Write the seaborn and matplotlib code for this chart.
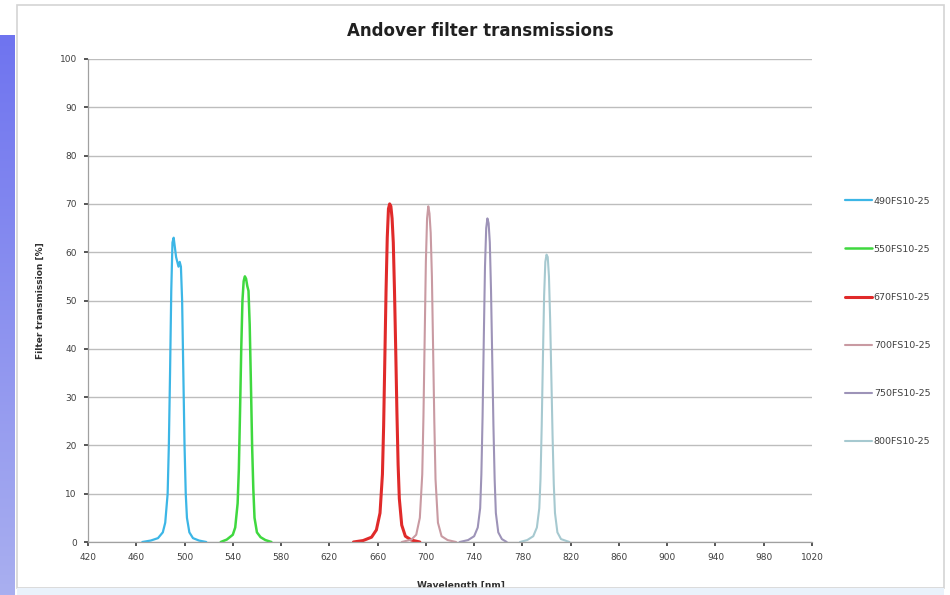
import numpy as np
import pandas as pd
import matplotlib
matplotlib.use("Agg")
import matplotlib.pyplot as plt
from matplotlib.patches import Rectangle
from matplotlib.colors import LinearSegmentedColormap
import seaborn as sns

# ---- data ----
filters = ["490FS10-25", "550FS10-25", "670FS10-25", "700FS10-25", "750FS10-25", "800FS10-25"]

wl_490 = [465, 472, 478, 482, 484, 486, 487, 488, 489, 490, 491, 492, 493, 494, 495, 496, 497, 498, 499, 500, 501, 502, 504, 507, 512, 518]
tr_490 = [0, 0.3, 0.8, 2, 4, 10, 20, 35, 52, 62, 63, 61, 59, 58, 57, 58, 57, 50, 35, 20, 10, 5, 2, 0.8, 0.3, 0]

wl_550 = [530, 535, 540, 542, 544, 545, 546, 547, 548, 549, 550, 551, 552, 553, 554, 555, 556, 557, 558, 560, 563, 567, 572]
tr_550 = [0, 0.5, 1.5, 3, 8, 15, 27, 40, 50, 54, 55, 54.5, 53, 52, 45, 33, 20, 11, 5, 2, 1, 0.4, 0]

wl_670 = [640, 648, 655, 659, 662, 664, 665, 666, 667, 668, 669, 670, 671, 672, 673, 674, 675, 676, 677, 678, 680, 683, 688, 695]
tr_670 = [0, 0.3, 1, 2.5, 6, 14, 24, 38, 52, 63, 69, 70, 69.5, 67, 62, 52, 40, 27, 16, 9, 3.5, 1.2, 0.4, 0]

wl_700 = [680, 688, 692, 695, 697, 698, 699, 700, 701, 702, 703, 704, 705, 706, 707, 708, 710, 713, 718, 725]
tr_700 = [0, 0.5, 1.5, 5, 14, 26, 42, 58, 67, 69.5, 68, 64, 55, 40, 25, 13, 4, 1.2, 0.4, 0]

wl_750 = [728, 735, 740, 743, 745, 746, 747, 748, 749, 750, 751, 752, 753, 754, 755, 756, 757, 758, 760, 763, 767]
tr_750 = [0, 0.4, 1.2, 3, 7, 14, 26, 42, 57, 65, 67, 66, 62, 52, 38, 24, 13, 6, 2, 0.6, 0]

wl_800 = [778, 784, 789, 792, 794, 795, 796, 797, 798, 799, 800, 801, 802, 803, 804, 805, 806, 807, 809, 812, 819]
tr_800 = [0, 0.4, 1.2, 3, 7, 13, 24, 38, 51, 58, 59.5, 59, 55, 46, 34, 22, 12, 6, 2, 0.6, 0]

x_ticks = list(range(420, 1021, 40))
y_ticks = list(range(0, 101, 10))

series = [(wl_490, tr_490), (wl_550, tr_550), (wl_670, tr_670),
          (wl_700, tr_700), (wl_750, tr_750), (wl_800, tr_800)]
frames = []
for name, (w, t) in zip(filters, series):
    frames.append(pd.DataFrame({"Wavelength": w, "Transmission": t, "Filter": name}))
df = pd.concat(frames, ignore_index=True)

colors = ["#3cb6e6", "#3fd83f", "#e02a2a", "#c99aa2", "#9d93b8", "#a6c9d0"]
widths = [1.6, 1.8, 2.2, 1.5, 1.5, 1.5]

sns.set_theme(style="white")
plt.rcParams["font.family"] = ["DejaVu Sans"]

fig = plt.figure(figsize=(9.5, 5.95), dpi=100)
fig.patch.set_facecolor("white")

# slide decoration: left blue strip and chart frame
strip = fig.add_axes([0, 0, 15 / 950, (595 - 35) / 595])
grad = np.linspace(0, 1, 256).reshape(-1, 1)
cmap = LinearSegmentedColormap.from_list("g", ["#a9aff0", "#6f74ef"])
strip.imshow(grad, aspect="auto", cmap=cmap, origin="lower")
strip.axis("off")
fig.add_artist(Rectangle((17 / 950, 7 / 595), (944 - 17) / 950, (590 - 7) / 595,
                         transform=fig.transFigure, fill=False,
                         edgecolor="#d4d4d4", linewidth=1.2))
fig.add_artist(Rectangle((17 / 950, 0), (944 - 17) / 950, 7 / 595,
                         transform=fig.transFigure, facecolor="#eaf2fb",
                         edgecolor="none"))

ax = fig.add_axes([88 / 950, (595 - 542) / 595, (812 - 88) / 950, (542 - 59) / 595])
sns.lineplot(data=df, x="Wavelength", y="Transmission", hue="Filter",
             hue_order=filters, palette=colors, ax=ax, sort=False,
             estimator=None, legend=False)
for line, lw in zip(ax.get_lines(), widths):
    line.set_linewidth(lw)

ax.set_xlim(420, 1020)
ax.set_ylim(0, 100)
ax.set_xticks(x_ticks)
ax.set_yticks(y_ticks)
ax.tick_params(axis="both", labelsize=6.5, colors="#404040", length=3,
               direction="out", pad=5)
ax.tick_params(axis="both", which="both", bottom=True, left=True)
ax.yaxis.grid(True, color="#bdbdbd", linewidth=1.0)
ax.xaxis.grid(False)
for side in ["top", "right"]:
    ax.spines[side].set_visible(False)
for side in ["left", "bottom"]:
    ax.spines[side].set_color("#a0a0a0")
    ax.spines[side].set_linewidth(0.9)

ax.set_xlabel("Wavelength [nm]", fontsize=6.5, fontweight="bold", color="#303030")
ax.xaxis.set_label_coords(0.515, -0.08)
ax.set_ylabel("Filter transmission [%]", fontsize=6.5, fontweight="bold", color="#303030")
ax.yaxis.set_label_coords(-0.06, 0.5)

fig.text(480 / 950, 1 - 31 / 595, "Andover filter transmissions",
         ha="center", va="center", fontsize=12, fontweight="bold", color="#202020")

# legend
handles = [plt.Line2D([], [], color=c, linewidth=lw) for c, lw in zip(colors, widths)]
leg = fig.legend(handles, filters, loc="upper left",
                 bbox_to_anchor=(836 / 950, 1 - 188 / 595), frameon=False,
                 fontsize=6.8, handlelength=2.9, handletextpad=0.2,
                 labelspacing=4.15, labelcolor="#404040")

fig.savefig("out.png", dpi=100, facecolor="white")
